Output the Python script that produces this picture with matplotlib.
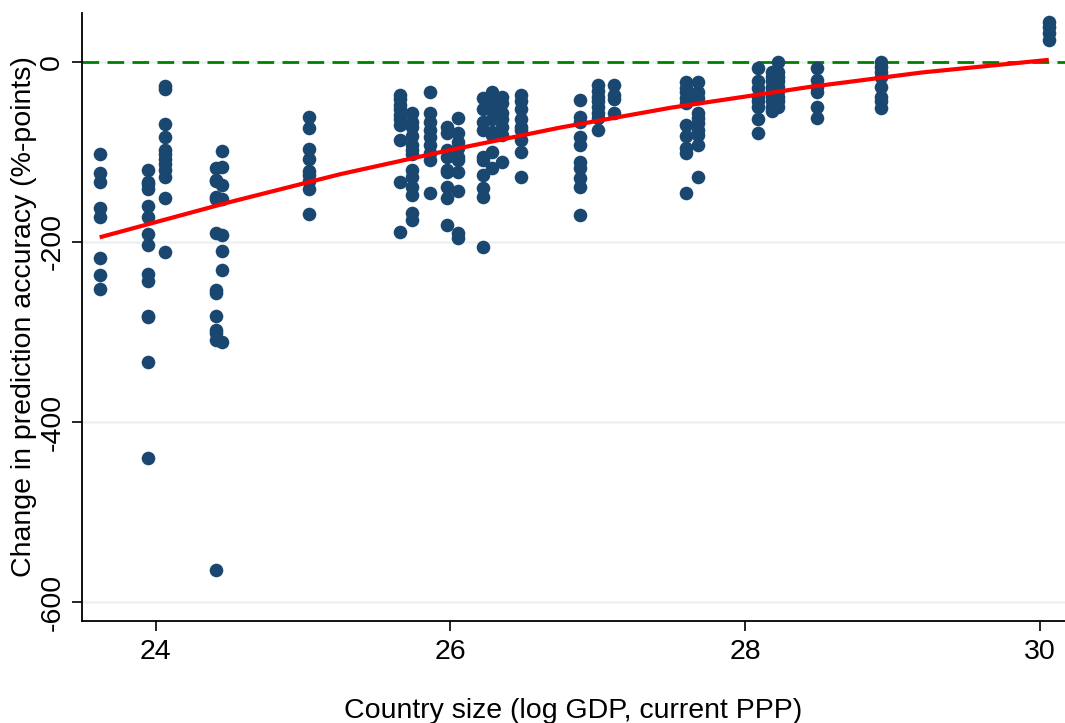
import numpy as np
import matplotlib
matplotlib.use("Agg")
import matplotlib.pyplot as plt

plt.rcParams['font.family'] = ['Liberation Sans', 'DejaVu Sans']

# Country size (log GDP) per group, and change in prediction accuracy (%-points)
col_x = [23.62, 23.95, 24.06, 24.41, 24.45, 25.04, 25.66, 25.74, 25.86, 25.98,
         26.05, 26.22, 26.28, 26.35, 26.48, 26.88, 27.00, 27.11, 27.60, 27.68,
         28.09, 28.18, 28.22, 28.49, 28.92, 30.06]
col_y = [
    [-102, -124, -134, -163, -172, -218, -237, -252],
    [-120, -134, -136, -141, -160, -172, -191, -203, -236, -243, -282, -283, -333, -440],
    [-27, -30, -69, -84, -98, -103, -108, -114, -120, -128, -151, -211],
    [-118, -131, -133, -150, -153, -190, -253, -257, -282, -298, -301, -309, -564],
    [-99, -117, -137, -153, -192, -210, -231, -311],
    [-61, -74, -97, -108, -121, -126, -133, -141, -169],
    [-37, -42, -48, -53, -59, -64, -70, -87, -134, -189],
    [-57, -67, -73, -83, -92, -98, -103, -120, -128, -139, -148, -168, -176],
    [-34, -57, -67, -76, -84, -92, -101, -109, -146],
    [-72, -79, -98, -106, -120, -123, -139, -151, -181],
    [-62, -79, -89, -96, -106, -109, -123, -144, -190, -196],
    [-40, -53, -67, -76, -106, -109, -126, -140, -150, -206],
    [-34, -46, -53, -64, -78, -81, -100, -118],
    [-39, -46, -57, -64, -72, -81, -111],
    [-37, -44, -53, -64, -72, -76, -87, -100, -128],
    [-43, -61, -67, -84, -93, -111, -118, -129, -139, -170],
    [-26, -33, -39, -44, -50, -57, -62, -76],
    [-26, -37, -42, -57],
    [-23, -29, -34, -40, -46, -70, -83, -96, -101, -146],
    [-23, -34, -40, -57, -62, -68, -76, -81, -93, -128],
    [-7, -22, -29, -39, -44, -50, -64, -79],
    [-11, -17, -22, -28, -33, -39, -44, -50, -55],
    [0, -11, -17, -22, -28, -33, -39, -44, -50],
    [-7, -20, -28, -34, -50, -62],
    [0, -6, -11, -17, -28, -39, -44, -51],
    [44, 38, 32, 24],
]

# Fitted (quadratic) line
fit_x = [23.62, 24.5, 25.25, 26.0, 26.75, 27.5, 28.44, 29.2, 30.06]
fit_y = [-195, -156, -125, -98, -73, -51, -28, -12, 2]

x_ticks = [24, 26, 28, 30]
y_ticks = [-600, -400, -200, 0]
x_label = "Country size (log GDP, current PPP)"
y_label = "Change in prediction accuracy (%-points)"

xs = np.concatenate([[cx] * len(cy) for cx, cy in zip(col_x, col_y)])
ys = np.concatenate([np.array(cy, dtype=float) for cy in col_y])

fig = plt.figure(figsize=(10.65, 7.23), dpi=100)
ax = fig.add_axes([0.077, 0.141, 0.923, 0.841])

ax.set_xlim(23.5, 30.17)
ax.set_ylim(-621, 54)

for yt in y_ticks:
    ax.axhline(yt, color='#EAF2F3', lw=1.8, zorder=0)
ax.axhline(0, color='#008000', lw=2.0, dashes=(6, 3), zorder=1)

ax.plot(xs, ys, 'o', color='#1A476F', markersize=9.8, markeredgewidth=0, zorder=2)

ax.plot(fit_x, fit_y, color='#FF0000', lw=3.0, zorder=3, solid_capstyle='butt')

ax.set_xticks(x_ticks)
ax.set_yticks(y_ticks)
ax.set_yticklabels([str(v) for v in y_ticks], rotation=90, va='center')
ax.tick_params(axis='both', labelsize=20.5, length=7, width=1.2, direction='out')
ax.tick_params(axis='x', pad=6)
ax.tick_params(axis='y', pad=5)
for s in ['top', 'right']:
    ax.spines[s].set_visible(False)
for s in ['left', 'bottom']:
    ax.spines[s].set_linewidth(1.3)

ax.set_xlabel(x_label, fontsize=20.5, labelpad=24)
ax.set_ylabel(y_label, fontsize=20.5, labelpad=2)

fig.savefig("out.png", dpi=100, facecolor='white')
